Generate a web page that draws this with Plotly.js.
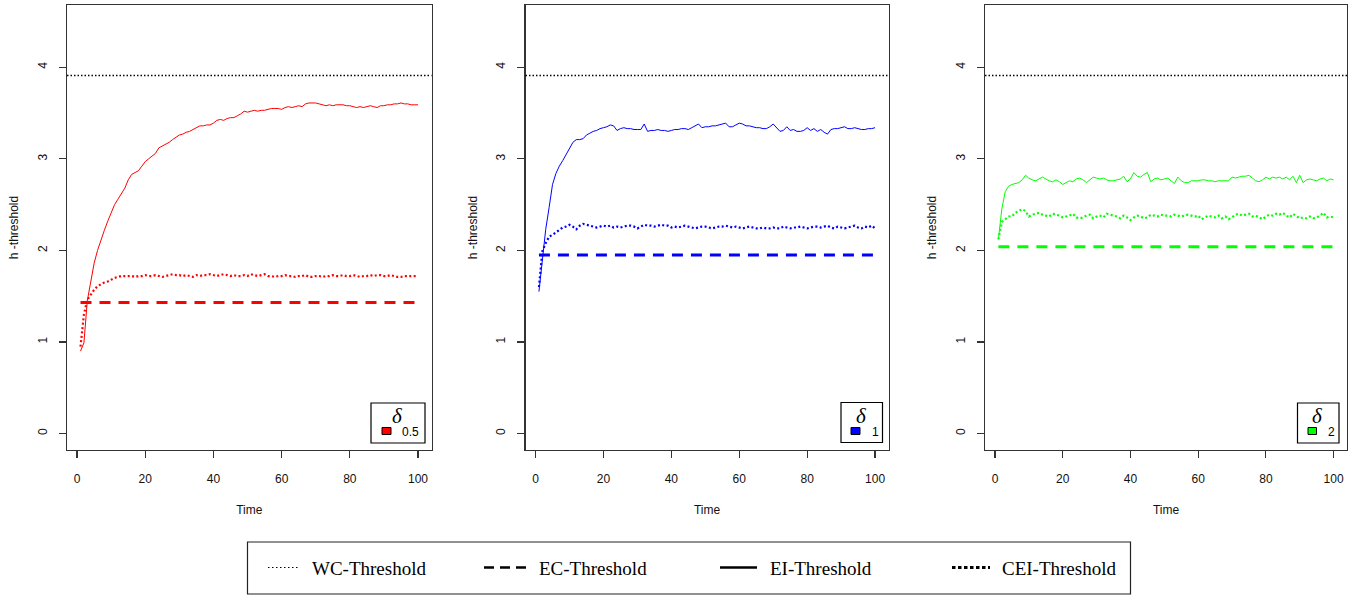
<!DOCTYPE html>
<html>
<head>
<meta charset="utf-8">
<script src="https://cdn.plot.ly/plotly-3.0.1.min.js"></script>
<style>html,body{margin:0;padding:0;background:#fff;}#chart{width:1363px;height:596px;}</style>
</head>
<body>
<div id="chart"></div>
<script>
// ---------- data ----------
const deltas = ['0.5', '1', '2'];
const colors = ['#FF0000', '#0000FF', '#00FF00'];
const wcThreshold = 3.91;
const ecThreshold = [1.43, 1.95, 2.04];
const xTicks = [0, 20, 40, 60, 80, 100];
const yTicks = [0, 1, 2, 3, 4];
const time = Array.from({length: 100}, (_, i) => i + 1);

const eiRed = [
  0.90, 0.99, 1.45, 1.68, 1.86, 2.00, 2.12, 2.22, 2.32, 2.42,
  2.50, 2.56, 2.62, 2.68, 2.77, 2.83, 2.85, 2.87, 2.92, 2.97,
  3.00, 3.03, 3.06, 3.12, 3.14, 3.16, 3.18, 3.21, 3.24, 3.26,
  3.27, 3.29, 3.30, 3.32, 3.34, 3.36, 3.36, 3.37, 3.37, 3.39,
  3.42, 3.43, 3.42, 3.44, 3.45, 3.45, 3.47, 3.49, 3.52, 3.51,
  3.52, 3.53, 3.52, 3.53, 3.53, 3.54, 3.55, 3.55, 3.55, 3.54,
  3.56, 3.57, 3.56, 3.57, 3.58, 3.57, 3.60, 3.61, 3.61, 3.61,
  3.60, 3.59, 3.58, 3.59, 3.58, 3.59, 3.59, 3.59, 3.58, 3.58,
  3.57, 3.56, 3.57, 3.56, 3.57, 3.58, 3.57, 3.56, 3.58, 3.58,
  3.59, 3.59, 3.60, 3.60, 3.61, 3.60, 3.60, 3.59, 3.59, 3.59
];
const ceiRed = [
  0.95, 1.30, 1.46, 1.52, 1.57, 1.61, 1.63, 1.65, 1.66, 1.68,
  1.70, 1.71, 1.72, 1.72, 1.72, 1.72, 1.71, 1.72, 1.72, 1.73,
  1.72, 1.72, 1.73, 1.72, 1.71, 1.72, 1.73, 1.74, 1.73, 1.73,
  1.72, 1.73, 1.72, 1.71, 1.73, 1.72, 1.73, 1.73, 1.74, 1.73,
  1.72, 1.73, 1.74, 1.73, 1.72, 1.73, 1.72, 1.72, 1.73, 1.72,
  1.74, 1.73, 1.72, 1.73, 1.74, 1.72, 1.72, 1.71, 1.72, 1.72,
  1.73, 1.72, 1.72, 1.71, 1.72, 1.72, 1.73, 1.71, 1.71, 1.72,
  1.72, 1.71, 1.72, 1.72, 1.73, 1.72, 1.72, 1.73, 1.72, 1.72,
  1.73, 1.72, 1.71, 1.72, 1.72, 1.73, 1.72, 1.73, 1.73, 1.72,
  1.72, 1.73, 1.72, 1.71, 1.71, 1.72, 1.72, 1.72, 1.72, 1.72
];
const eiBlue = [
  1.55, 1.92, 2.23, 2.47, 2.72, 2.84, 2.92, 2.98, 3.05, 3.12,
  3.18, 3.21, 3.21, 3.22, 3.26, 3.28, 3.30, 3.31, 3.33, 3.34,
  3.35, 3.37, 3.36, 3.31, 3.33, 3.34, 3.33, 3.33, 3.32, 3.32,
  3.32, 3.38, 3.30, 3.31, 3.31, 3.32, 3.31, 3.31, 3.30, 3.31,
  3.32, 3.32, 3.33, 3.33, 3.32, 3.34, 3.36, 3.38, 3.34, 3.35,
  3.35, 3.36, 3.36, 3.37, 3.38, 3.39, 3.35, 3.35, 3.37, 3.39,
  3.38, 3.36, 3.36, 3.35, 3.34, 3.34, 3.33, 3.33, 3.35, 3.38,
  3.34, 3.30, 3.31, 3.35, 3.31, 3.32, 3.30, 3.30, 3.31, 3.34,
  3.31, 3.33, 3.30, 3.32, 3.29, 3.27, 3.32, 3.33, 3.33, 3.34,
  3.35, 3.33, 3.33, 3.34, 3.33, 3.32, 3.32, 3.33, 3.33, 3.34
];
const ceiBlue = [
  1.60, 1.99, 2.08, 2.15, 2.17, 2.20, 2.23, 2.25, 2.26, 2.28,
  2.26, 2.23, 2.27, 2.29, 2.28, 2.27, 2.26, 2.25, 2.26, 2.27,
  2.26, 2.27, 2.25, 2.26, 2.25, 2.26, 2.27, 2.27, 2.26, 2.24,
  2.26, 2.28, 2.27, 2.27, 2.26, 2.27, 2.28, 2.27, 2.27, 2.25,
  2.26, 2.25, 2.26, 2.27, 2.26, 2.25, 2.24, 2.25, 2.26, 2.26,
  2.25, 2.24, 2.25, 2.26, 2.26, 2.27, 2.26, 2.25, 2.26, 2.25,
  2.24, 2.25, 2.26, 2.25, 2.24, 2.24, 2.25, 2.24, 2.24, 2.25,
  2.24, 2.24, 2.26, 2.25, 2.24, 2.25, 2.25, 2.26, 2.25, 2.24,
  2.25, 2.26, 2.26, 2.25, 2.26, 2.27, 2.25, 2.24, 2.26, 2.25,
  2.24, 2.25, 2.26, 2.27, 2.25, 2.24, 2.26, 2.25, 2.27, 2.24
];
const eiGreen = [
  2.12, 2.45, 2.64, 2.70, 2.72, 2.73, 2.74, 2.77, 2.82, 2.79,
  2.77, 2.76, 2.78, 2.80, 2.78, 2.76, 2.75, 2.77, 2.75, 2.72,
  2.74, 2.76, 2.75, 2.78, 2.79, 2.77, 2.74, 2.77, 2.80, 2.79,
  2.78, 2.79, 2.77, 2.76, 2.76, 2.77, 2.78, 2.81, 2.75, 2.78,
  2.85, 2.81, 2.80, 2.83, 2.85, 2.75, 2.78, 2.79, 2.77, 2.78,
  2.79, 2.76, 2.73, 2.80, 2.76, 2.74, 2.74, 2.76, 2.76, 2.76,
  2.77, 2.77, 2.76, 2.76, 2.75, 2.76, 2.76, 2.76, 2.76, 2.80,
  2.79, 2.80, 2.81, 2.81, 2.82, 2.79, 2.76, 2.75, 2.77, 2.80,
  2.78, 2.80, 2.79, 2.80, 2.78, 2.80, 2.77, 2.81, 2.74, 2.82,
  2.74, 2.77, 2.78, 2.77, 2.76, 2.78, 2.79, 2.76, 2.78, 2.77
];
const ceiGreen = [
  2.12, 2.31, 2.34, 2.37, 2.37, 2.41, 2.43, 2.45, 2.43, 2.37,
  2.39, 2.40, 2.41, 2.39, 2.38, 2.37, 2.40, 2.39, 2.38, 2.36,
  2.37, 2.38, 2.40, 2.36, 2.35, 2.36, 2.38, 2.39, 2.35, 2.37,
  2.38, 2.36, 2.40, 2.39, 2.38, 2.37, 2.35, 2.38, 2.36, 2.33,
  2.36, 2.38, 2.37, 2.35, 2.36, 2.39, 2.38, 2.37, 2.39, 2.38,
  2.38, 2.37, 2.39, 2.38, 2.37, 2.38, 2.39, 2.38, 2.37, 2.38,
  2.34, 2.36, 2.38, 2.37, 2.36, 2.38, 2.35, 2.37, 2.34, 2.36,
  2.39, 2.40, 2.38, 2.39, 2.40, 2.37, 2.38, 2.36, 2.34, 2.37,
  2.39, 2.38, 2.40, 2.39, 2.41, 2.38, 2.36, 2.40, 2.37, 2.35,
  2.36, 2.35, 2.37, 2.35, 2.36, 2.38, 2.41, 2.36, 2.37, 2.36
];
const eiSeries = [eiRed, eiBlue, eiGreen];
const ceiSeries = [ceiRed, ceiBlue, ceiGreen];
const legendLabels = ['WC-Threshold', 'EC-Threshold', 'EI-Threshold', 'CEI-Threshold'];

// ---------- layout helpers (pixel geometry of the page) ----------
const W = 1363, H = 596;
const M = {l: 67, r: 16, t: 5, b: 146};
const PW = W - M.l - M.r, PH = H - M.t - M.b;
const fx = x => (x - M.l) / PW;
const fy = y => (H - M.b - y) / PH;
const boxes = [[67, 431.5], [525.5, 888.5], [985, 1347]];

const traces = [];
const shapes = [];
const annotations = [];
const layout = {
  width: W, height: H,
  margin: M,
  paper_bgcolor: '#fff', plot_bgcolor: '#fff',
  showlegend: false,
  font: {family: 'Liberation Sans, Arial, sans-serif', size: 12, color: '#000'}
};

const axisCommon = {
  showline: true, mirror: true, linecolor: '#333', linewidth: 1.3,
  ticks: 'outside', ticklen: 7, tickwidth: 1.2, tickcolor: '#333',
  showgrid: false, zeroline: false,
  tickfont: {family: 'Liberation Sans, Arial, sans-serif', size: 12, color: '#111'}
};

for (let p = 0; p < 3; p++) {
  const sfx = p === 0 ? '' : String(p + 1);
  const xa = 'x' + sfx, ya = 'y' + sfx;
  const col = colors[p];
  layout['xaxis' + sfx] = Object.assign({}, axisCommon, {
    domain: [fx(boxes[p][0]), fx(boxes[p][1])],
    range: [-2.96, 103.96], tickvals: xTicks, ticktext: xTicks.map(String),
    anchor: ya, ticklabelstandoff: 10,
    title: {text: 'Time', font: {size: 12, color: '#111'}, standoff: 21}
  });
  layout['yaxis' + sfx] = Object.assign({}, axisCommon, {
    domain: [0, 1], range: [-0.18, 4.68], tickvals: yTicks, ticktext: yTicks.map(String),
    tickangle: -90, anchor: xa, ticklabelstandoff: 7,
    title: {text: 'h -threshold', font: {size: 12, color: '#111'}, standoff: 14}
  });

  traces.push({
    x: time, y: time.map(() => ecThreshold[p]), xaxis: xa, yaxis: ya,
    mode: 'lines', line: {color: col, width: 3, dash: '11px,8px'}, name: 'EC-Threshold'
  });
  traces.push({
    x: time, y: ceiSeries[p], xaxis: xa, yaxis: ya,
    mode: 'lines', line: {color: col, width: 2.2, dash: '2px,2.4px'}, name: 'CEI-Threshold'
  });
  traces.push({
    x: time, y: eiSeries[p], xaxis: xa, yaxis: ya,
    mode: 'lines', line: {color: col, width: 1}, name: 'EI-Threshold'
  });
  // WC threshold: horizontal line across the panel
  shapes.push({
    type: 'line', xref: xa + ' domain', yref: ya, x0: 0, x1: 1, y0: wcThreshold, y1: wcThreshold,
    line: {color: '#000', width: 1.3, dash: '1.5px,2px'}
  });
}

// ---------- per-panel delta legends ----------
const dBox = [
  {x0: 371, x1: 425, y0: 403, y1: 443, dx: 397, sq: [382, 391], tx: 400},
  {x0: 841, x1: 882.5, y0: 402.5, y1: 442.5, dx: 861.5, sq: [851, 860], tx: 870},
  {x0: 1297.5, x1: 1339, y0: 403, y1: 443, dx: 1317, sq: [1308, 1316.5], tx: 1326}
];
dBox.forEach((b, p) => {
  shapes.push({type: 'rect', xref: 'paper', yref: 'paper',
    x0: fx(b.x0), x1: fx(b.x1), y0: fy(b.y1), y1: fy(b.y0),
    line: {color: '#000', width: 1.2}, fillcolor: '#fff'});
  shapes.push({type: 'rect', xref: 'paper', yref: 'paper',
    x0: fx(b.sq[0]), x1: fx(b.sq[1]), y0: fy(434.5), y1: fy(427.5),
    line: {color: '#000', width: 1}, fillcolor: colors[p]});
  annotations.push({xref: 'paper', yref: 'paper', x: fx(b.dx), y: fy(415.5),
    xanchor: 'center', yanchor: 'middle', showarrow: false,
    text: '<i>δ</i>', font: {family: 'Liberation Serif, Times New Roman, serif', size: 21, color: '#000'}});
  annotations.push({xref: 'paper', yref: 'paper', x: fx(b.tx), y: fy(431.5),
    xanchor: 'left', yanchor: 'middle', showarrow: false,
    text: deltas[p], font: {family: 'Liberation Sans, Arial, sans-serif', size: 12, color: '#000'}});
});

// ---------- bottom legend ----------
shapes.push({type: 'rect', xref: 'paper', yref: 'paper',
  x0: fx(247.5), x1: fx(1130.5), y0: fy(594), y1: fy(542),
  line: {color: '#222', width: 1.2}, fillcolor: 'rgba(0,0,0,0)'});
const legItems = [
  {l0: 268, l1: 300, tx: 310, line: {color: '#000', width: 1, dash: '1.5px,2.5px'}},
  {l0: 484, l1: 527, tx: 537, line: {color: '#000', width: 2.5, dash: '10px,6px'}},
  {l0: 720, l1: 757, tx: 768, line: {color: '#000', width: 2.5}},
  {l0: 952, l1: 990, tx: 1000, line: {color: '#000', width: 3, dash: '3.5px,2.5px'}}
];
legItems.forEach((it, i) => {
  shapes.push({type: 'line', xref: 'paper', yref: 'paper',
    x0: fx(it.l0), x1: fx(it.l1), y0: fy(567.5), y1: fy(567.5), line: it.line});
  annotations.push({xref: 'paper', yref: 'paper', x: fx(it.tx), y: fy(568),
    xanchor: 'left', yanchor: 'middle', showarrow: false, text: legendLabels[i],
    font: {family: 'Liberation Serif, Times New Roman, serif', size: 19, color: '#000'}});
});

layout.shapes = shapes;
layout.annotations = annotations;

Plotly.newPlot('chart', traces, layout, {staticPlot: true, displayModeBar: false});
</script>
</body>
</html>
